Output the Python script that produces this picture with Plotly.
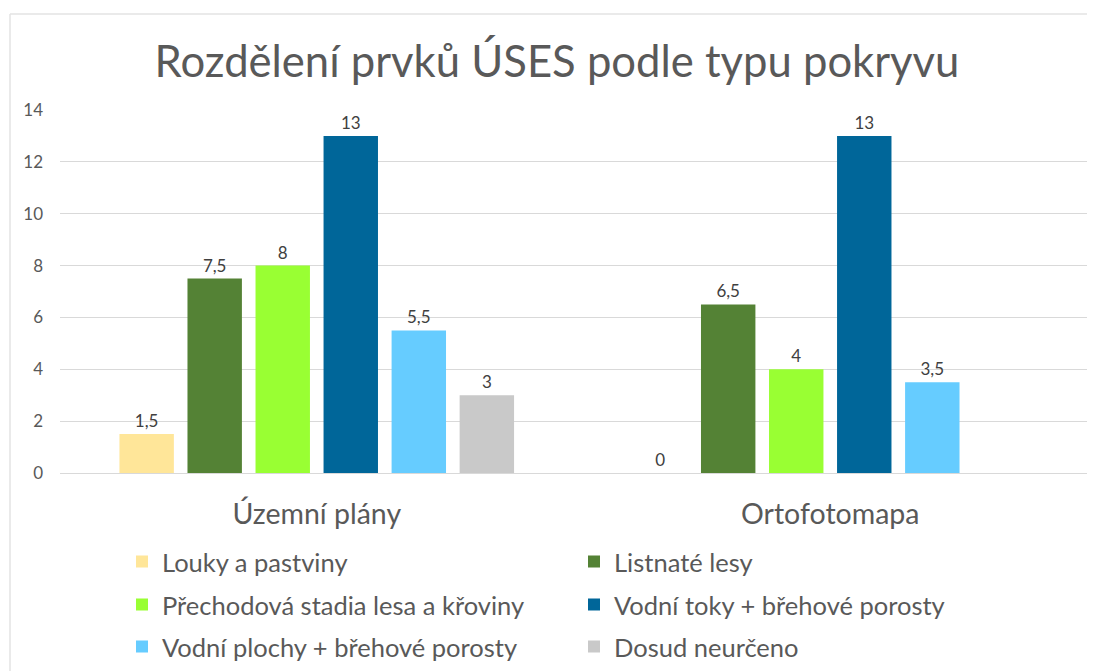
import plotly.graph_objects as go

categories = ["Územní plány", "Ortofotomapa"]
series_names = [
    "Louky a pastviny",
    "Listnaté lesy",
    "Přechodová stadia lesa a křoviny",
    "Vodní toky + břehové porosty",
    "Vodní plochy + břehové porosty",
    "Dosud neurčeno",
]
louky = [1.5, 0]
listnate = [7.5, 6.5]
prechodova = [8, 4]
vodni_toky = [13, 13]
vodni_plochy = [5.5, 3.5]
dosud = [3, None]
y_ticks = [0, 2, 4, 6, 8, 10, 12, 14]

series_values = [louky, listnate, prechodova, vodni_toky, vodni_plochy, dosud]
colors = ["#FFE699", "#548235", "#99FF33", "#006699", "#66CCFF", "#C9C9C9"]
legend_ids = ["legend", "legend", "legend2", "legend2", "legend3", "legend3"]

FONT = "Lato, 'Open Sans', sans-serif"
TXT = "#595959"


def fmt(v):
    if v is None:
        return ""
    return ("%g" % v).replace(".", ",")


fig = go.Figure()
for name, vals, col, lg in zip(series_names, series_values, colors, legend_ids):
    fig.add_trace(go.Bar(
        name=name,
        x=categories,
        y=vals,
        marker=dict(color=col, line=dict(width=0)),
        text=[fmt(v) for v in vals],
        textposition="outside",
        cliponaxis=False,
        textfont=dict(family=FONT, size=17, color="#404040"),
        legend=lg,
    ))

# page has an 8px body margin; figure coordinates = page coordinates - 8
OFF = 8
W, H = 1095 - OFF, 671 - OFF
L = 60 - OFF
T = 110 - OFF
R = W - (1087 - OFF)
B = H - (473 - OFF)
pw = W - L - R
ph = H - T - B


def px_x(xpage):
    return (xpage - OFF - L) / pw


def px_y(ypage):
    return (H - B - (ypage - OFF)) / ph


legend_common = dict(
    orientation="h",
    entrywidth=407,
    entrywidthmode="pixels",
    font=dict(family=FONT, size=25.5, color=TXT),
    bgcolor="rgba(0,0,0,0)",
    xref="container",
    yref="container",
    xanchor="left",
    yanchor="middle",
    x=114 / W,
    itemclick=False,
    itemdoubleclick=False,
)

fig.update_layout(
    width=W,
    height=H,
    margin=dict(l=L, r=R, t=T, b=B, autoexpand=False),
    paper_bgcolor="white",
    plot_bgcolor="white",
    barmode="group",
    bargap=0.205,
    bargroupgap=0.2,
    title=dict(
        text="Rozdělení prvků ÚSES podle typu pokryvu",
        font=dict(family=FONT, size=43.6, color=TXT),
        x=(557 - OFF) / W,
        xanchor="center",
        y=1 - (62 - OFF) / H,
        yanchor="middle",
    ),
    xaxis=dict(
        showgrid=False,
        showline=True,
        linecolor="#D9D9D9",
        linewidth=1,
        ticks="",
        tickfont=dict(family=FONT, size=28.5, color=TXT),
        ticklabelstandoff=16,
    ),
    yaxis=dict(
        range=[0, 14],
        tickvals=y_ticks,
        showgrid=True,
        gridcolor="#D9D9D9",
        gridwidth=1,
        zeroline=False,
        showline=False,
        ticks="",
        tickfont=dict(family=FONT, size=17, color=TXT),
        ticklabelstandoff=16,
    ),
    legend=dict(legend_common, y=1 - (562 - OFF) / H),
    legend2=dict(legend_common, y=1 - (605 - OFF) / H),
    legend3=dict(legend_common, y=1 - (647 - OFF) / H),
    shapes=[
        dict(type="line", xref="paper", yref="paper",
             x0=px_x(10), x1=px_x(1095), y0=px_y(14), y1=px_y(14),
             line=dict(color="#E3E3E3", width=1.5)),
        dict(type="line", xref="paper", yref="paper",
             x0=px_x(10), x1=px_x(10), y0=px_y(14), y1=px_y(671),
             line=dict(color="#E3E3E3", width=1.5)),
    ],
)

fig.write_html("out.html")
